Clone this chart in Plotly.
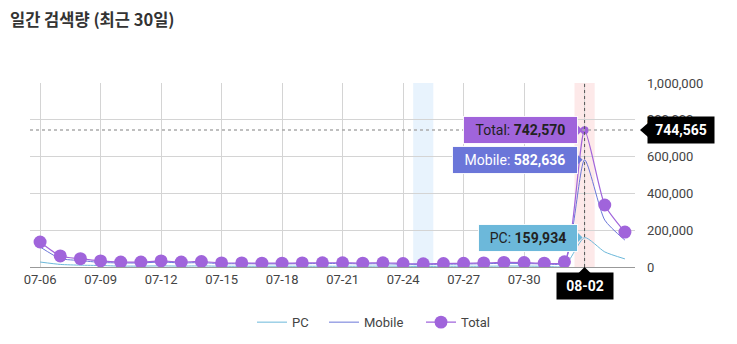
import plotly.graph_objects as go

dates = ["07-06","07-07","07-08","07-09","07-10","07-11","07-12","07-13","07-14","07-15",
         "07-16","07-17","07-18","07-19","07-20","07-21","07-22","07-23","07-24","07-25",
         "07-26","07-27","07-28","07-29","07-30","07-31","08-01","08-02","08-03","08-04"]
pc = [27000,14000,10000,8000,5000,5000,6000,5000,6000,4000,
      4000,4000,4000,4000,4000,4000,4000,5000,4000,3000,
      4000,4000,4000,5000,5000,4000,5000,159934,82000,44000]
mobile = [109000,46000,35000,25000,22000,22000,27000,22000,24000,18000,
          18000,17000,17000,18000,19000,19000,17000,18000,15000,14000,
          15000,16000,18000,20000,19000,17000,23000,582636,255000,146000]
total = [136000,60000,45000,33000,27000,27000,33000,27000,30000,22000,
         22000,21000,21000,22000,23000,23000,21000,23000,19000,17000,
         19000,20000,22000,25000,24000,21000,28000,742570,337000,190000]
tick_dates = ["07-06","07-09","07-12","07-15","07-18","07-21","07-24","07-27","07-30","08-02"]
y_ticks = [0, 200000, 400000, 600000, 800000, 1000000]
hover_date = "08-02"
cross_value = 744565
blue_date = "07-25"

C_PC = "#6cb8da"
C_MOB = "#6b76d9"
C_TOT = "#a064db"
FONT = "Roboto"

hi = dates.index(hover_date)
bi = dates.index(blue_date)

fig = go.Figure()
fig.add_trace(go.Scatter(x=dates, y=pc, name="PC", mode="lines", legend="legend",
                         line=dict(color=C_PC, width=1, shape="spline", smoothing=0.6)))
fig.add_trace(go.Scatter(x=dates, y=mobile, name="Mobile", mode="lines", legend="legend2",
                         line=dict(color=C_MOB, width=1, shape="spline", smoothing=0.6)))
sizes = [13] * len(dates)
sizes[hi] = 8
fig.add_trace(go.Scatter(x=dates, y=total, name="Total", mode="lines+markers", legend="legend3",
                         line=dict(color=C_TOT, width=1.2, shape="spline", smoothing=0.6),
                         marker=dict(color=C_TOT, size=sizes, opacity=1, line=dict(width=0))))

shapes = [
    dict(type="rect", xref="x", yref="paper", x0=bi - 0.5, x1=bi + 0.5, y0=0, y1=1,
         fillcolor="#e8f3fd", line_width=0, layer="below"),
    dict(type="rect", xref="x", yref="paper", x0=hi - 0.5, x1=hi + 0.5, y0=0, y1=1,
         fillcolor="#fde9e9", line_width=0, layer="below"),
    dict(type="line", xref="x", yref="paper", x0=hi, x1=hi, y0=0, y1=1,
         line=dict(color="#555", width=1, dash="3px,3px")),
    dict(type="line", xref="paper", yref="y", x0=0, x1=1, y0=cross_value, y1=cross_value,
         line=dict(color="#aaa", width=1.5, dash="3px,3px")),
]

annotations = []
for val, label, bg, fc, w in [(total[hi], "Total", C_TOT, "#222", 103),
                              (mobile[hi], "Mobile", C_MOB, "#fff", 114),
                              (pc[hi], "PC", C_PC, "#222", 88)]:
    annotations.append(dict(x=hover_date, y=val, xref="x", yref="y", xanchor="right",
                            yanchor="middle", xshift=-7, showarrow=False,
                            text=f"{label}: <b>{val:,}</b>", bgcolor=bg, borderpad=5,
                            bordercolor="rgba(255,255,255,0.9)", borderwidth=1,
                            width=w, align="center",
                            font=dict(family=FONT, size=14, color=fc)))
    shapes.append(dict(type="path", xref="x", yref="y", xsizemode="pixel", ysizemode="pixel",
                       xanchor=hi, yanchor=val, path="M -8 -6 L -2 0 L -8 6 Z",
                       fillcolor=bg, line_width=0))

annotations.append(dict(x=1, y=cross_value, xref="paper", yref="y", xanchor="left",
                        yanchor="middle", xshift=12, showarrow=False,
                        text=f"<b>{cross_value:,}</b>", bgcolor="#000", borderpad=5,
                        width=56, font=dict(family=FONT, size=14, color="#fff")))
shapes.append(dict(type="path", xref="paper", yref="y", xsizemode="pixel", ysizemode="pixel",
                   xanchor=1, yanchor=cross_value, path="M 5 0 L 13 -7 L 13 7 Z",
                   fillcolor="#000", line_width=0))
annotations.append(dict(x=hover_date, y=0, xref="x", yref="paper", xanchor="center",
                        yanchor="top", yshift=-5, showarrow=False,
                        text=f"<b>{hover_date}</b>", bgcolor="#000", borderpad=5,
                        width=46, font=dict(family=FONT, size=14, color="#fff")))
shapes.append(dict(type="path", xref="x", yref="paper", xsizemode="pixel", ysizemode="pixel",
                   xanchor=hi, yanchor=0, path="M -6 -6 L 0 0 L 6 -6 Z",
                   fillcolor="#000", line_width=0))

L, R = 22, 627
def px(v):
    return (v - L) / (R - L)

leg_common = dict(orientation="h", y=-0.30, yanchor="middle", xanchor="left",
                  font=dict(family=FONT, size=13, color="#444"), bgcolor="rgba(0,0,0,0)")

fig.update_layout(
    width=737, height=344,
    margin=dict(l=L, r=737 - R, t=75, b=85),
    plot_bgcolor="#fff", paper_bgcolor="#fff",
    title=dict(text="일간 검색량 (최근 30일)", xref="container", yref="container",
               x=2 / 737, xanchor="left", y=1 - 12 / 344, yanchor="middle",
               font=dict(family="Noto Sans CJK KR", size=16.5, color="#333", weight="bold")),
    xaxis=dict(type="category", range=[-0.5, len(dates) - 0.5], tickmode="array",
               tickvals=tick_dates, ticktext=[t if t != hover_date else "" for t in tick_dates],
               showgrid=True, gridcolor="#d4d4d4", gridwidth=1, ticks="",
               showline=True, linecolor="#999", linewidth=1, zeroline=False,
               tickfont=dict(family=FONT, size=13, color="#444")),
    yaxis=dict(side="right", range=[0, 1000000], tickvals=y_ticks,
               ticktext=[f"{v:,}" for v in y_ticks], showgrid=True, gridcolor="#d4d4d4",
               zeroline=False, ticks="", showline=False, ticklabelstandoff=11,
               tickfont=dict(family=FONT, size=13, color="#444")),
    legend=dict(x=px(244), **leg_common),
    legend2=dict(x=px(316), **leg_common),
    legend3=dict(x=px(413), **leg_common),
    shapes=shapes, annotations=annotations, showlegend=True,
)
fig.write_html("out.html")
